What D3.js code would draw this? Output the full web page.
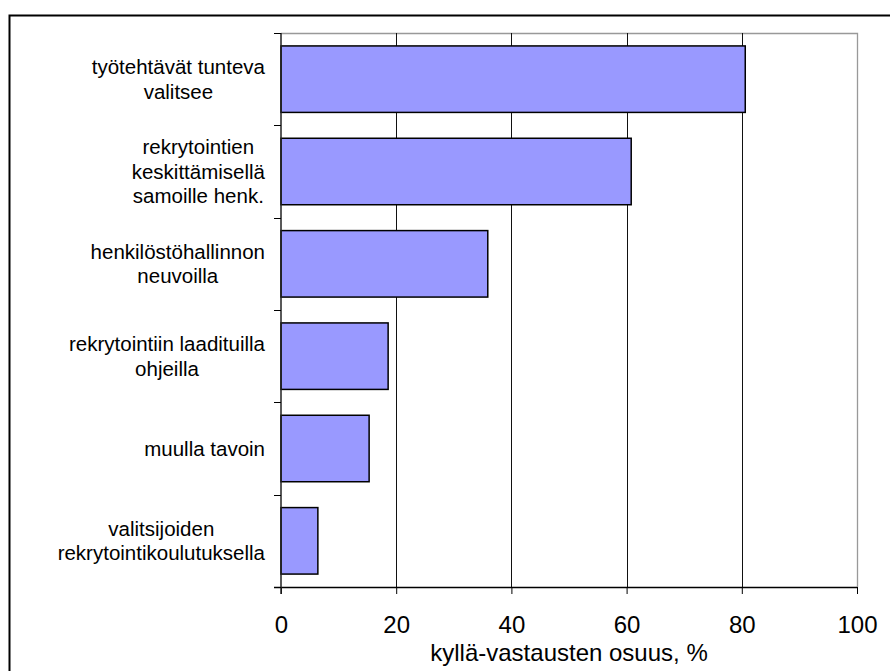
<!DOCTYPE html>
<html>
<head>
<meta charset="utf-8">
<script src="https://cdn.jsdelivr.net/npm/d3@7"></script>
<style>
  html, body { margin: 0; padding: 0; background: #fff; }
  svg { display: block; font-family: "Liberation Sans", Arial, sans-serif; }
</style>
</head>
<body>
<svg id="chart" width="890" height="671"></svg>
<script>
// Category labels (line breaks as drawn) and their "yes" shares in percent
const categories = [
  "työtehtävät tunteva|valitsee",
  "rekrytointien|keskittämisellä|samoille henk.",
  "henkilöstöhallinnon|neuvoilla",
  "rekrytointiin laadituilla|ohjeilla",
  "muulla tavoin",
  "valitsijoiden|rekrytointikoulutuksella"
];
const values = [80.6, 60.8, 35.9, 18.6, 15.3, 6.4];
const xTicks = [0, 20, 40, 60, 80, 100];
const xTitle = "kyllä-vastausten osuus, %";

const svg = d3.select("#chart");
const plot = { left: 281, right: 857, top: 33, bottom: 587 };

// outer chart-area border
svg.append("rect")
  .attr("x", 9.5).attr("y", 15.5)
  .attr("width", 900).attr("height", 700)
  .attr("fill", "none").attr("stroke", "#000").attr("stroke-width", 2);

const x = d3.scaleLinear().domain([0, 100]).range([plot.left, plot.right]);
const y = d3.scaleBand().domain(categories)
  .range([plot.top, plot.bottom])
  .paddingInner(0.28).paddingOuter(0.14);

// plot frame (top and right edges, gray)
svg.append("path")
  .attr("d", `M${plot.left},${plot.top + 0.5}H${plot.right + 0.5}V${plot.bottom}`)
  .attr("fill", "none").attr("stroke", "#999").attr("stroke-width", 1.3);

// vertical gridlines
svg.append("g")
  .selectAll("line")
  .data(xTicks.filter(t => t > 0 && t < 100))
  .join("line")
  .attr("x1", d => Math.round(x(d)) + 0.5).attr("x2", d => Math.round(x(d)) + 0.5)
  .attr("y1", plot.top).attr("y2", plot.bottom)
  .attr("stroke", "#111").attr("stroke-width", 1);

// bars
svg.append("g")
  .selectAll("rect")
  .data(categories.map((c, i) => ({ c, v: values[i] })))
  .join("rect")
  .attr("x", x(0))
  .attr("y", d => y(d.c))
  .attr("width", d => x(d.v) - x(0))
  .attr("height", y.bandwidth())
  .attr("fill", "#9999ff")
  .attr("stroke", "#000")
  .attr("stroke-width", 1.5);

// x axis
const xAxis = svg.append("g")
  .attr("transform", `translate(0,${plot.bottom})`)
  .call(d3.axisBottom(x).tickValues(xTicks).tickSize(7).tickPadding(0).tickFormat(d3.format("d")));
xAxis.select(".domain").attr("stroke", "#000").attr("stroke-width", 1.5)
  .attr("d", `M${plot.left - 7},0.5H${plot.right}`);
xAxis.selectAll(".tick line").attr("stroke", "#000");
xAxis.selectAll(".tick text")
  .attr("y", 46).attr("dy", null)
  .attr("fill", "#000")
  .style("font-size", "24px")
  .style("font-family", "'Liberation Sans', Arial, sans-serif");

// x axis title
svg.append("text")
  .attr("x", (plot.left + plot.right) / 2)
  .attr("y", 661)
  .attr("text-anchor", "middle")
  .style("font-size", "24px")
  .text(xTitle);

// y axis line and boundary ticks between categories
const yEdges = d3.range(categories.length + 1).map(i => plot.top + i * y.step());
svg.append("line")
  .attr("x1", plot.left).attr("x2", plot.left)
  .attr("y1", plot.top).attr("y2", plot.bottom + 7)
  .attr("stroke", "#222").attr("stroke-width", 1.5);
svg.append("g")
  .selectAll("line")
  .data(yEdges)
  .join("line")
  .attr("x1", plot.left - 7).attr("x2", plot.left)
  .attr("y1", d => Math.round(d) + 0.5).attr("y2", d => Math.round(d) + 0.5)
  .attr("stroke", "#000").attr("stroke-width", 1);

// category labels: centered lines, block right-aligned to the axis
const fs = 20.5, lh = 24.5, labelRight = 265;
const labels = svg.append("g").style("font-size", fs + "px");
categories.forEach(c => {
  const lines = c.split("|");
  const cy = y(c) + y.bandwidth() / 2;
  const t = labels.append("text").attr("text-anchor", "middle").attr("fill", "#000");
  lines.forEach((ln, i) => {
    t.append("tspan")
      .attr("y", cy + (i - (lines.length - 1) / 2) * lh + 0.36 * fs)
      .text(ln);
  });
  const maxW = d3.max(t.selectAll("tspan").nodes(), n => n.getComputedTextLength());
  t.selectAll("tspan").attr("x", labelRight - maxW / 2);
});
</script>
</body>
</html>
